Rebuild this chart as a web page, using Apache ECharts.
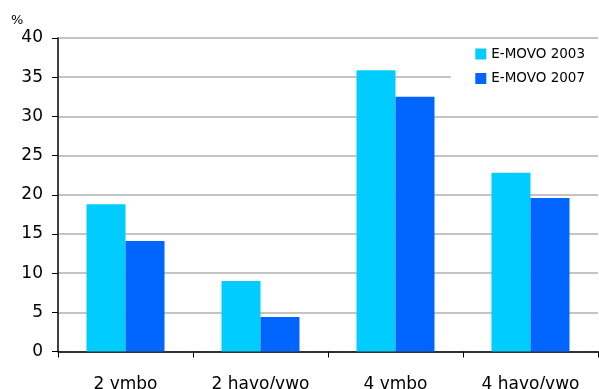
<!DOCTYPE html>
<html>
<head>
<meta charset="utf-8">
<script src="https://cdn.jsdelivr.net/npm/echarts@6/dist/echarts.min.js"></script>
<style>
  html, body { margin: 0; padding: 0; background: #fff; overflow: hidden; }
  #chart { width: 599px; height: 389px; }
</style>
</head>
<body>
<div id="chart"></div>
<script>
// Share of pupils per school type, E-MOVO 2003 vs 2007 (%)
var categories = ['2 vmbo', '2 havo/vwo', '4 vmbo', '4 havo/vwo'];
var seriesNames = ['E-MOVO 2003', 'E-MOVO 2007'];
var values2003 = [18.8, 9.0, 35.9, 22.8];
var values2007 = [14.1, 4.4, 32.5, 19.6];
var yMin = 0, yMax = 40, yStep = 5;

var fontFamily = 'DejaVu Sans, Verdana, sans-serif';
var chart = echarts.init(document.getElementById('chart'), null, { renderer: 'canvas' });

chart.setOption({
  animation: false,
  backgroundColor: '#ffffff',
  grid: {
    left: 58, right: 1, top: 38, bottom: 37.5,
    containLabel: false, outerBoundsMode: 'none'
  },
  graphic: [{
    type: 'text', left: 11, top: 14,
    style: { text: '%', fontSize: 13, fontFamily: fontFamily, fill: '#000' }
  }, {
    // white backing behind the legend
    type: 'rect', right: 0, top: 41, z: 5,
    shape: { width: 148, height: 56 },
    style: { fill: '#ffffff' }
  }],
  legend: {
    orient: 'vertical', right: 9, top: 42, z: 10,
    itemWidth: 11, itemHeight: 11, itemGap: 10.5,
    icon: 'rect',
    textStyle: { fontFamily: fontFamily, fontSize: 13.5, color: '#000' },
    data: seriesNames
  },
  xAxis: {
    type: 'category', data: categories,
    axisLine: { lineStyle: { color: '#000', width: 1.5 } },
    axisTick: { show: true, length: 6, alignWithLabel: false, lineStyle: { color: '#000' } },
    axisLabel: { margin: 25, fontSize: 17, fontFamily: fontFamily, color: '#000' },
    splitLine: { show: false }
  },
  yAxis: {
    type: 'value', min: yMin, max: yMax, interval: yStep,
    axisLine: { show: true, lineStyle: { color: '#000', width: 1.5 } },
    axisTick: { show: true, length: 6, lineStyle: { color: '#000' } },
    axisLabel: { margin: 15, fontSize: 17, fontFamily: fontFamily, color: '#000' },
    splitLine: { show: true, lineStyle: { color: '#c4c4c4', width: 2 } }
  },
  series: [{
    name: seriesNames[0], type: 'bar', data: values2003,
    barWidth: 39, barGap: '0%',
    itemStyle: { color: '#00ccff' }
  }, {
    name: seriesNames[1], type: 'bar', data: values2007,
    barWidth: 39, barGap: '0%',
    itemStyle: { color: '#0066ff' }
  }]
});
</script>
</body>
</html>
